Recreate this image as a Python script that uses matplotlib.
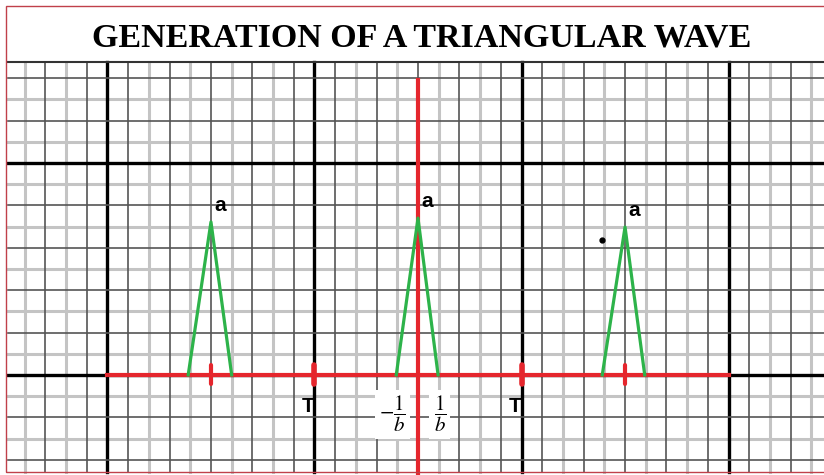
import numpy as np
import matplotlib.pyplot as plt

# datos (unidades = cuadritos del papel milimetrado)
peak_x = [-10, 0, 10]
peak_y = [7.22, 7.4, 6.98]
base_left = [-11.1, -1.05, 8.9]
base_right = [-9.0, 0.97, 10.95]
tick_x = [-10, -5, 5, 10]
T_x = [-5, 5]
dot = (8.9, 6.37)

fig = plt.figure(figsize=(8.24, 4.75), dpi=100)
ax = fig.add_axes([0, 0, 1, 1])
ax.set_xlim(-20.19, 19.61)
ax.set_ylim(-4.72, 17.69)
ax.axis('off')

# papel milimetrado
gx0, gx1 = -19.8, 19.61
gy0, gy1 = -4.6, 14.76
for i in range(-19, 20):
    if abs(i) % 10 == 5:
        ax.plot([i, i], [gy0, gy1], color='black', lw=2.4, zorder=1)
    elif i % 2 == 0:
        ax.plot([i, i], [gy0, gy1], color='#555555', lw=1.2, zorder=1)
    else:
        ax.plot([i, i], [gy0, gy1], color='#c4c4c4', lw=2.2, zorder=0)
for j in range(-4, 15):
    if j % 10 == 0:
        ax.plot([gx0, gx1], [j, j], color='black', lw=2.4, zorder=1)
    elif j % 2 == 0:
        ax.plot([gx0, gx1], [j, j], color='#555555', lw=1.2, zorder=1)
    else:
        ax.plot([gx0, gx1], [j, j], color='#c4c4c4', lw=2.2, zorder=0)
ax.plot([gx0, gx1], [gy1, gy1], color='#333333', lw=1.5, zorder=1)

# ejes rojos
ax.plot([-15, 15], [0, 0], color='#e5262d', lw=3, zorder=3)
ax.plot([0, 0], [-4.72, 13.9], color='#e5262d', lw=3, zorder=3)
for tx in tick_x:
    ax.plot([tx, tx], [-0.45, 0.45], color='#e5262d', lw=4 if tx in T_x else 3,
            solid_capstyle='round', zorder=3)

# onda triangular
for xl, xp, yp, xr in zip(base_left, peak_x, peak_y, base_right):
    ax.plot([xl, xp, xr], [0, yp, 0], color='#2db34a', lw=2.3, zorder=4)
    ax.text(xp + 0.15, yp + 0.35, 'a', fontsize=15, fontweight='bold',
            family='Liberation Sans', ha='left', va='bottom', zorder=5)

ax.plot(*dot, 'o', color='black', ms=3.5, zorder=5)

for tx in T_x:
    ax.text(tx - 0.3, -1.05, 'T', fontsize=15, fontweight='bold',
            family='Liberation Sans', ha='center', va='top', zorder=5)

box = dict(facecolor='white', edgecolor='none', pad=3)
ax.text(-1.25, -1.85, r'$-\dfrac{1}{b}$', fontsize=15, math_fontfamily='stix',
        ha='center', va='center', bbox=box, zorder=5)
ax.text(1.05, -1.85, r'$\dfrac{1}{b}$', fontsize=15, math_fontfamily='stix',
        ha='center', va='center', bbox=box, zorder=5)

# titulo y borde
fig.text(0.512, 0.92, 'GENERATION OF A TRIANGULAR WAVE', fontsize=24.5,
         fontweight='bold', family='Liberation Serif', ha='center', va='center')
fig.patches.append(plt.Rectangle((6 / 824, 3 / 475), 1, 466 / 475, fill=False,
                                 edgecolor='#c0404a', lw=1, transform=fig.transFigure))

fig.savefig('out.png', dpi=100)
